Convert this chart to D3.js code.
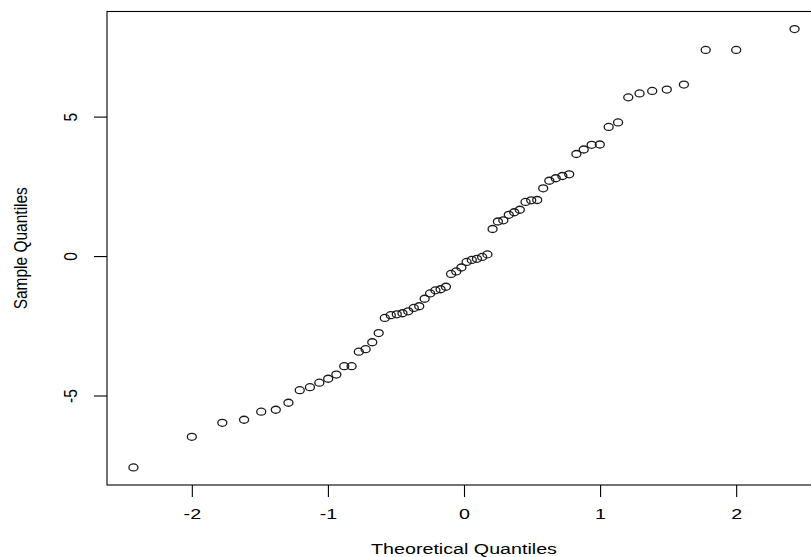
<!DOCTYPE html>
<html>
<head>
<meta charset="utf-8">
<script src="https://cdn.jsdelivr.net/npm/d3@7"></script>
<style>
  body { margin: 0; background: #fff; }
  text { font-family: "Liberation Sans", Arial, sans-serif; fill: #000; }
</style>
</head>
<body>
<div id="viz"></div>
<script>
// theoretical normal quantiles (x) and sorted sample values (y)
const theoQ = [
  -2.429, -2.000, -1.776, -1.616, -1.490, -1.383, -1.290, -1.207, -1.132, -1.063,
  -0.998, -0.938, -0.880, -0.826, -0.773, -0.723, -0.674, -0.627, -0.582, -0.538,
  -0.494, -0.452, -0.410, -0.369, -0.329, -0.289, -0.249, -0.210, -0.172, -0.133,
  -0.095, -0.057, -0.019, 0.019, 0.057, 0.095, 0.133, 0.172, 0.210, 0.249,
  0.289, 0.329, 0.369, 0.410, 0.452, 0.494, 0.538, 0.582, 0.627, 0.674,
  0.723, 0.773, 0.826, 0.880, 0.938, 0.998, 1.063, 1.132, 1.207, 1.290,
  1.383, 1.490, 1.616, 1.776, 2.000, 2.429
];
const sampleQ = [
  -7.58, -6.48, -5.98, -5.87, -5.58, -5.51, -5.26, -4.81, -4.70, -4.54,
  -4.40, -4.25, -3.95, -3.95, -3.43, -3.34, -3.09, -2.76, -2.22, -2.12,
  -2.09, -2.05, -1.98, -1.86, -1.80, -1.53, -1.34, -1.23, -1.19, -1.10,
  -0.64, -0.55, -0.41, -0.21, -0.14, -0.10, -0.03, 0.06, 0.97, 1.24,
  1.28, 1.48, 1.57, 1.66, 1.94, 2.00, 2.01, 2.43, 2.70, 2.79,
  2.87, 2.93, 3.66, 3.82, 3.99, 4.00, 4.63, 4.79, 5.69, 5.83,
  5.92, 5.97, 6.15, 7.39, 7.39, 8.14
];
const xTicks = [-2, -1, 0, 1, 2];
const yTicks = [-5, 0, 5];
const xTitle = "Theoretical Quantiles",
      yTitle = "Sample Quantiles";

const width = 811, height = 557,
      box = {left: 107, top: 11.5, bottom: 485, right: 821},
      stretch = 1.27; // picture is stretched sideways

// R style limits: data range widened by 4% each side
const pad = ext => { const d = (ext[1] - ext[0]) * 0.04; return [ext[0] - d, ext[1] + d]; };

const x = d3.scaleLinear().domain(pad(d3.extent(theoQ))).range([box.left, box.right]),
      y = d3.scaleLinear().domain(pad(d3.extent(sampleQ))).range([box.bottom, box.top]);

// plain hyphen minus, as R prints it
const fmt = d => String(d);

const svg = d3.select("#viz").append("svg")
  .attr("width", width)
  .attr("height", height);

// plot box
svg.append("rect")
  .attr("x", box.left).attr("y", box.top)
  .attr("width", box.right - box.left).attr("height", box.bottom - box.top)
  .attr("fill", "none").attr("stroke", "#000").attr("stroke-width", 1.1);

// x axis
const gx = svg.append("g")
  .attr("transform", `translate(0,${box.bottom})`)
  .call(d3.axisBottom(x).tickValues(xTicks).tickSize(12).tickFormat(fmt));
gx.select(".domain").remove();
gx.selectAll(".tick line").attr("stroke", "#000").attr("stroke-width", 1.1);
gx.selectAll(".tick text")
  .attr("y", 34).attr("dy", 0)
  .attr("transform", `scale(${stretch},1)`)
  .style("font-size", "15.5px")
  .style("font-family", "Liberation Sans, Arial, sans-serif")
  .attr("fill", "#000");

// y axis, labels turned like R's las = 0
const gy = svg.append("g")
  .attr("transform", `translate(${box.left},0)`)
  .call(d3.axisLeft(y).tickValues(yTicks).tickSize(13).tickFormat(fmt));
gy.select(".domain").remove();
gy.selectAll(".tick line").attr("stroke", "#000").attr("stroke-width", 1.1);
gy.selectAll(".tick text")
  .attr("x", 0).attr("y", 0).attr("dy", 0)
  .attr("text-anchor", "middle")
  .attr("transform", `translate(-30,0) scale(1.15,1) rotate(-90)`)
  .style("font-size", "15.5px")
  .style("font-family", "Liberation Sans, Arial, sans-serif")
  .attr("fill", "#000");

// axis titles
svg.append("text")
  .attr("text-anchor", "middle")
  .attr("transform", `translate(${(box.left + box.right) / 2},554) scale(${stretch},1)`)
  .style("font-size", "15.5px")
  .text(xTitle);

svg.append("text")
  .attr("text-anchor", "middle")
  .attr("transform", `translate(27,${(box.top + box.bottom) / 2}) scale(1.15,1) rotate(-90)`)
  .style("font-size", "15.5px")
  .text(yTitle);

// points: open circles, stretched like the rest of the picture
svg.append("g")
  .selectAll("ellipse")
  .data(theoQ.map((t, i) => [t, sampleQ[i]]))
  .join("ellipse")
  .attr("cx", d => x(d[0]))
  .attr("cy", d => y(d[1]))
  .attr("rx", 4.5)
  .attr("ry", 3.5)
  .attr("fill", "none")
  .attr("stroke", "#1a1a1a")
  .attr("stroke-width", 1.3);
</script>
</body>
</html>
